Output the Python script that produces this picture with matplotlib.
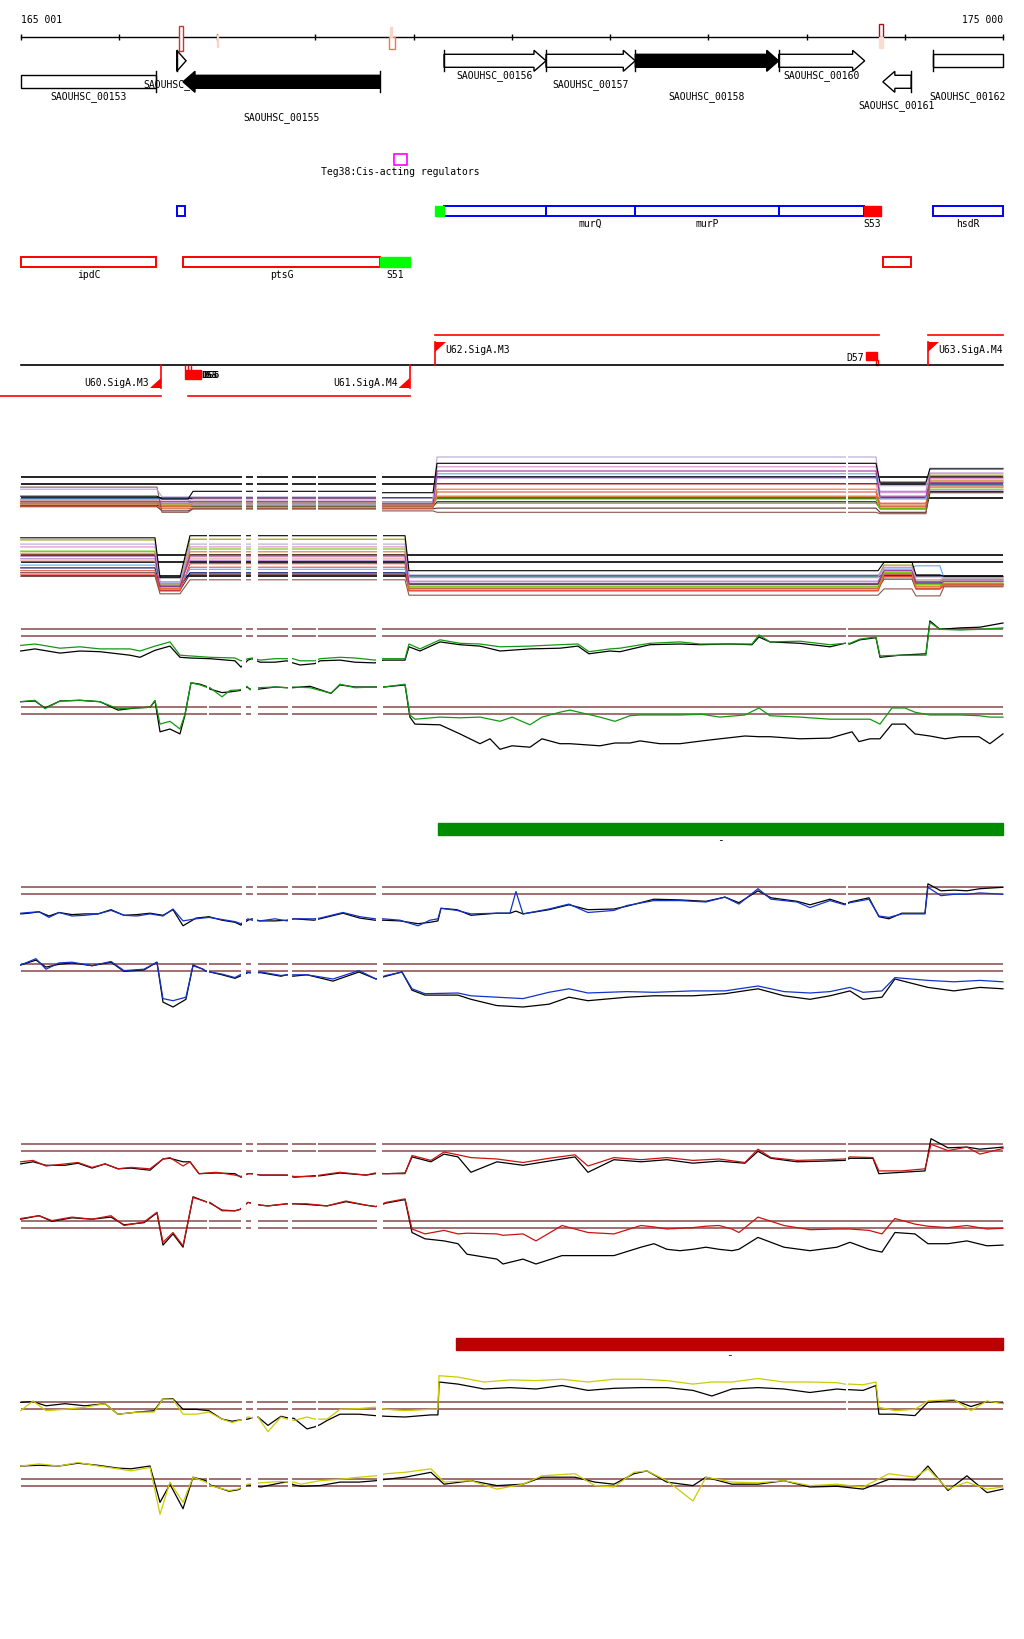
import numpy as np
import matplotlib.pyplot as plt
from matplotlib.patches import Rectangle, Polygon

plt.rcParams['font.family'] = ['DejaVu Sans Mono', 'DejaVu Sans']
plt.rcParams['font.size'] = 7

# --- window ---
view_start, view_end = 165001, 175000
x_lim = (164790, 175214)

# --- genes (top track) ---
gene_names = ['SAOUHSC_00153', 'SAOUHSC_00154', 'SAOUHSC_00155', 'SAOUHSC_00156', 'SAOUHSC_00157',
              'SAOUHSC_00158', 'SAOUHSC_00160', 'SAOUHSC_00161', 'SAOUHSC_00162']
gene_start = [165001, 166589, 166653, 169310, 170348, 171257, 172717, 173777, 174284]
gene_end = [166381, 166684, 168661, 170348, 171257, 172717, 173592, 174065, 175000]
gene_strand = ['-', '+', '-', '+', '+', '+', '+', '-', '+']
gene_clipped = [True, False, False, False, False, False, False, False, True]
gene_dark = [False, False, True, False, False, True, False, False, False]

# ruler sites
site_start = [166615, 166994, 168753, 168763, 173740, 173740]
site_end = [166650, 167014, 168814, 168783, 173775, 173775]
site_color = ['#cc3333', '#f6d6c8', '#ff7050', '#f6d6c8', '#aa1111', '#f9ddd2']
site_filled = [False, True, False, True, False, True]

# annotation boxes
teg_start, teg_end = 168804, 168936
operon_start = [166589, 169310, 170348, 171257, 172717, 174284]
operon_end = [166677, 170348, 171257, 172717, 173588, 175000]
operon_label = ['', '', 'murQ', 'murP', '', 'hsdR']
srna_start = [169220, 173588]
srna_end = [169310, 173755]
srna_label = ['', 'S53']
rna_start = [165001, 166656, 173780]
rna_end = [166381, 168658, 174065]
rna_label = ['ipdC', 'ptsG', '']
s51_start, s51_end = 168658, 168960

# promoters / transcription units
tu_fwd_start = [169218, 174236]
tu_fwd_end = [173734, 175000]
tu_fwd_label = ['U62.SigA.M3', 'U63.SigA.M4']
tu_rev_start = [164790, 166704]
tu_rev_end = [166429, 168960]
tu_rev_label = ['U60.SigA.M3', 'U61.SigA.M4']

# differential regions
green_bar = (169249, 175000)
red_bar = (169432, 175000)

# probe gaps
fwd_gaps = [(167254, 167295), (167366, 167407), (167722, 167763), (168007, 168027),
            (168618, 168679), (173403, 173424)]
rev_gaps = [(166897, 166918), (167243, 167295), (167346, 167417), (167722, 167763),
            (168628, 168690)]

# --- multi-condition panels: levels per region ---
fwd_regions = [(165001, 166388), (166439, 166704), (166755, 168617), (168679, 169198),
               (169239, 173707), (173748, 174216), (174256, 175000)]
rev_regions = [(165001, 166368), (166419, 166622), (166724, 168913), (168953, 173728),
               (173789, 174074), (174114, 174358), (174399, 175000)]
sample_colors = ['black', '#b4a7d6', '#8c564b', '#993399', '#dd88cc', '#55aaff', '#e8703a',
                 '#dd5533', '#66cc00', '#999900', '#000066', '#cc9944', '#ff3333', '#5a3030',
                 '#aa77cc', '#f0a090']
fwd_levels = [
    [0.3, -0.1, 1.0, 0.8, 5.0, 2.3, 4.2],
    [1.3, 0.2, 0.2, 0.0, 5.9, 1.8, 4.3],
    [1.6, -2.0, -1.5, -1.8, -2.0, -2.2, 3.0],
    [-0.5, -0.5, -0.5, -0.8, 3.9, 0.3, 2.3],
    [-0.2, -0.4, -0.1, -0.5, 4.5, 0.8, 2.8],
    [-0.1, -0.1, -0.8, -0.5, 3.5, -0.1, 1.9],
    [-0.8, -1.2, -1.0, -1.1, 1.3, -0.8, 2.2],
    [-1.1, -1.5, -1.4, -1.4, 0.9, -1.2, 1.6],
    [-0.5, -0.8, -0.5, -0.7, -0.1, -1.5, 1.3],
    [-0.8, -1.1, -1.1, -1.1, -0.7, -1.4, 3.3],
    [-1.0, -1.2, -1.2, -1.2, -0.5, -1.5, 1.0],
    [-0.4, -1.0, -0.7, -0.8, 0.2, -1.0, 2.5],
    [-0.7, -1.0, -0.8, -1.0, 0.3, -0.7, 1.8],
    [-1.2, -1.8, -1.5, -1.5, -1.4, -2.0, 0.8],
    [-0.4, -0.7, -0.4, -0.5, 2.9, 1.0, 3.6],
    [-0.7, -0.8, -0.7, -0.8, 2.0, 0.0, 2.6],
]
rev_levels = [
    [5.5, -0.2, 5.8, 0.8, 2.0, 0.2, 0.0],
    [4.6, -0.8, 4.6, 0.2, 1.0, -0.1, -0.1],
    [0.0, -2.5, -0.5, -2.7, -1.8, -2.8, -1.5],
    [2.9, -1.5, 2.9, -1.0, 0.8, -1.0, -0.7],
    [4.2, -1.1, 4.2, -0.2, 1.3, -0.5, -0.2],
    [1.6, -0.8, 1.0, -0.1, 1.2, 1.5, -0.2],
    [3.2, -1.8, 3.5, -1.8, 0.3, -1.5, -1.1],
    [0.8, -1.8, 1.3, -2.1, -0.1, -1.7, -1.2],
    [3.6, -1.2, 3.9, -1.5, 0.5, -1.2, -1.0],
    [5.2, -1.1, 5.3, -0.1, 1.6, -0.7, -0.4],
    [1.2, -1.4, 0.5, -1.1, 0.3, -0.8, -1.2],
    [3.5, -1.7, 3.0, -1.2, 0.6, -1.4, -0.8],
    [0.2, -2.1, 1.8, -2.0, 0.0, -1.8, -1.4],
    [0.5, -2.0, 0.3, -1.7, -0.4, -1.8, -1.1],
    [2.5, -1.0, 2.3, -0.7, 0.9, -0.8, -0.5],
    [2.2, -1.2, 2.6, -1.4, 0.5, -1.1, -0.7],
]

# --- green condition ---
green_fwd_pos = [165001, 165146, 165401, 165604, 165808, 166113, 166215, 166368, 166520, 166622,
                 166724, 166928, 167182, 167243, 167314, 167355, 167437, 167589, 167711, 167772,
                 167844, 167996, 168047, 168251, 168404, 168607, 168689, 168913, 168953, 169065,
                 169269, 169472, 169676, 169880, 170185, 170490, 170673, 170785, 170999, 171101,
                 171406, 171712, 171915, 172221, 172445, 172516, 172628, 172933, 173239, 173391,
                 173442, 173544, 173707, 173748, 173951, 174216, 174256, 174358, 174562, 174765,
                 175000]
green_fwd = [-1.3, -1.1, -1.7, -1.5, -1.8, -1.8, -2.1, -1.4, -0.8, -2.7, -2.8, -3.0, -3.1, -3.5,
             -3.2, -3.1, -3.4, -3.2, -3.2, -3.2, -3.5, -3.5, -3.2, -3.0, -3.1, -3.4, -3.2, -3.2,
             -1.1, -1.8, -0.5, -1.0, -1.1, -1.5, -1.4, -1.2, -1.1, -2.2, -1.8, -1.7, -1.0, -0.8,
             -1.1, -1.1, -1.1, 0.2, -0.8, -0.7, -1.2, -1.0, -1.0, -0.4, -0.1, -2.8, -2.7, -2.7,
             2.0, 1.0, 0.9, 1.0, 1.2]
green_fwd_ref = [-2.1, -1.8, -2.4, -2.1, -2.2, -2.7, -3.0, -2.0, -1.4, -3.0, -3.1, -3.2, -3.5, -4.4,
                 -3.4, -3.2, -3.7, -3.7, -3.5, -3.8, -4.1, -3.9, -3.5, -3.4, -3.7, -3.8, -3.4, -3.4,
                 -1.5, -2.1, -0.8, -1.2, -1.4, -2.1, -1.8, -1.7, -1.4, -2.5, -2.1, -2.2, -1.2, -1.1,
                 -1.2, -1.1, -1.2, -0.1, -0.8, -1.0, -1.5, -1.0, -1.1, -0.5, -0.2, -3.0, -2.7, -2.5,
                 2.2, 1.0, 1.2, 1.3, 1.9]
green_rev_pos = [165001, 165146, 165248, 165401, 165604, 165808, 165991, 166164, 166317, 166368,
                 166419, 166520, 166622, 166673, 166734, 166826, 166887, 166928, 167050, 167131,
                 167233, 167304, 167335, 167426, 167589, 167711, 167772, 167946, 168159, 168251,
                 168404, 168617, 168699, 168913, 168963, 169014, 169269, 169472, 169676, 169778,
                 169880, 170002, 170185, 170307, 170490, 170592, 170897, 171050, 171203, 171305,
                 171508, 171712, 171936, 172119, 172373, 172516, 172628, 172933, 173239, 173463,
                 173534, 173646, 173748, 173870, 174002, 174104, 174256, 174409, 174562, 174755,
                 174867, 175000]
green_rev = [1.8, 2.0, 0.8, 1.9, 2.0, 1.8, 0.8, 0.9, 1.0, 2.0, -1.4, -1.0, -2.1, 0.0, 4.5,
             4.2, 3.9, 3.8, 2.5, 3.4, 3.5, 4.0, 3.5, 3.8, 3.9, 3.8, 3.9, 3.8, 3.0, 4.3,
             3.8, 3.9, 3.9, 4.3, -0.1, -0.7, -0.4, -0.5, -0.4, -0.7, -1.0, -0.4, -1.5, -0.4, 0.3,
             0.6, -0.4, -1.0, -0.2, -0.1, -0.1, -0.1, 0.0, -0.4, -0.1, 0.9, -0.2, -0.4, -0.7, -0.7,
             -0.7, -0.7, -1.4, 0.9, 0.9, 0.3, -0.1, -0.1, -0.1, -0.2, -0.4, -0.4]
green_rev_ref = [1.8, 1.9, 0.9, 1.9, 2.0, 1.8, 0.6, 0.9, 1.0, 1.9, -2.5, -2.1, -2.8, -0.1, 4.5,
                 4.3, 4.0, 3.6, 3.1, 3.2, 3.4, 3.9, 3.6, 3.6, 3.9, 3.8, 3.8, 4.0, 3.0, 4.2,
                 3.9, 3.9, 3.9, 4.2, -0.4, -1.4, -1.5, -2.8, -4.2, -3.5, -5.0, -4.5, -4.7, -3.5, -4.2,
                 -4.2, -4.5, -4.1, -4.1, -3.8, -4.2, -4.2, -3.8, -3.5, -3.1, -3.2, -3.2, -3.5, -3.4, -2.5,
                 -3.9, -3.5, -3.5, -1.4, -1.4, -2.8, -3.1, -3.5, -3.2, -3.2, -4.2, -2.8]

# --- blue condition ---
blue_fwd_pos = [165001, 165085, 165187, 165289, 165391, 165523, 165655, 165788, 165920, 166052,
                166185, 166317, 166449, 166551, 166653, 166785, 166917, 167050, 167182, 167243,
                167314, 167355, 167437, 167589, 167711, 167783, 167986, 168047, 168281, 168454,
                168607, 168689, 168862, 169045, 169167, 169248, 169279, 169442, 169584, 169849,
                169981, 170042, 170114, 170378, 170582, 170775, 171040, 171172, 171447, 171712,
                171976, 172170, 172312, 172506, 172638, 172903, 173035, 173239, 173391, 173442,
                173636, 173737, 173839, 173971, 174206, 174236, 174368, 174501, 174633, 174765,
                175000]
blue_fwd = [-2.7, -2.6, -2.5, -3.3, -2.6, -3.1, -3.0, -2.8, -2.3, -3.0, -3.1, -2.8, -3.1, -2.1, -3.8,
            -3.5, -3.3, -3.6, -3.9, -4.2, -3.5, -3.7, -3.8, -3.5, -3.8, -3.5, -3.5, -3.4, -2.6, -3.2,
            -3.5, -3.5, -3.7, -4.5, -3.7, -3.5, -2.0, -2.3, -2.8, -2.7, -2.7, 0.4, -2.8, -2.1, -1.4,
            -2.6, -2.3, -1.6, -0.9, -0.9, -1.1, -0.4, -1.4, 0.8, -0.7, -1.1, -1.9, -0.9, -1.5, -1.2,
            -0.7, -3.1, -3.3, -2.8, -2.8, 1.0, -0.2, 0.0, 0.0, 0.2, 0.0]
blue_fwd_ref = [-2.8, -2.7, -2.5, -3.1, -2.6, -2.9, -2.8, -2.8, -2.2, -3.0, -2.9, -2.7, -3.0, -2.2, -4.5,
                -3.4, -3.2, -3.7, -4.0, -4.4, -3.7, -3.5, -3.8, -3.8, -3.7, -3.5, -3.7, -3.5, -2.7, -3.4,
                -3.7, -3.7, -3.8, -4.2, -4.0, -3.8, -2.0, -2.2, -3.0, -2.7, -2.7, -2.4, -2.8, -2.2, -1.5,
                -2.2, -2.1, -1.7, -0.7, -0.8, -1.0, -0.4, -1.2, 0.5, -0.5, -1.0, -1.5, -0.7, -1.4, -1.1,
                -0.5, -3.2, -3.5, -2.7, -2.7, 1.5, 0.5, 0.6, 0.5, 0.8, 1.0]
blue_rev_pos = [165001, 165156, 165258, 165391, 165523, 165727, 165920, 166052, 166256, 166388,
                166449, 166551, 166683, 166755, 166856, 166887, 166928, 167050, 167182, 167233,
                167314, 167335, 167447, 167650, 167711, 167772, 167915, 168180, 168444, 168617,
                168719, 168882, 168984, 169116, 169452, 169584, 169849, 170114, 170378, 170582,
                170775, 171172, 171447, 171844, 172170, 172506, 172770, 173035, 173239, 173442,
                173575, 173768, 173900, 174236, 174501, 174765, 175000]
blue_rev = [0.9, 1.8, 0.3, 1.2, 1.3, 0.8, 1.4, 0.1, 0.3, 1.3, -3.9, -4.2, -3.7, 0.8, 0.3,
            0.0, -0.1, -0.4, -0.9, -0.5, -0.1, -0.2, -0.1, -0.6, -0.5, -0.5, -0.5, -1.1, 0.1, -1.1,
            -0.6, -0.1, -2.5, -3.2, -3.1, -3.5, -3.7, -3.9, -3.0, -2.5, -3.1, -2.9, -3.0, -2.8, -2.8,
            -2.1, -2.9, -3.1, -2.9, -2.3, -3.0, -2.8, -0.9, -1.3, -1.5, -1.3, -1.5]
blue_rev_ref = [0.9, 1.6, 0.6, 1.0, 1.2, 0.8, 1.3, 0.0, 0.2, 1.3, -4.4, -5.1, -4.0, 0.9, 0.3,
                0.0, -0.1, -0.5, -1.0, -0.7, -0.2, -0.2, -0.2, -0.7, -0.5, -0.7, -0.5, -1.4, -0.1, -1.1,
                -0.7, -0.1, -2.7, -3.4, -3.4, -4.0, -4.9, -5.1, -4.7, -3.7, -4.2, -3.7, -3.5, -3.5, -3.2,
                -2.5, -3.5, -4.0, -3.5, -2.8, -4.0, -3.7, -1.1, -2.3, -2.8, -2.3, -2.5]

# --- red condition ---
red_fwd_pos = [165001, 165126, 165258, 165452, 165584, 165727, 165859, 165991, 166123, 166317,
               166449, 166520, 166653, 166724, 166816, 166989, 167182, 167243, 167314, 167355,
               167447, 167711, 167783, 167986, 168047, 168251, 168516, 168607, 168719, 168913,
               168984, 169177, 169310, 169452, 169584, 169849, 170114, 170378, 170643, 170775,
               171040, 171315, 171579, 171844, 172109, 172373, 172506, 172638, 172903, 173178,
               173391, 173442, 173676, 173737, 173971, 174206, 174267, 174440, 174633, 174765,
               175000]
red_fwd = [-1.5, -1.3, -2.1, -1.8, -1.6, -2.3, -1.8, -2.5, -2.3, -2.5, -1.1, -0.9, -2.1, -1.5, -3.2,
           -3.0, -3.4, -3.6, -3.2, -3.2, -3.4, -3.4, -3.6, -3.6, -3.4, -3.0, -3.4, -3.1, -3.2, -3.2,
           -0.6, -1.3, -0.1, -0.5, -0.9, -1.1, -1.6, -1.0, -0.5, -2.1, -0.9, -1.2, -0.9, -1.3, -1.1,
           -1.6, 0.3, -0.9, -1.3, -1.2, -1.1, -0.8, -0.9, -2.8, -2.8, -2.5, 1.0, 0.1, 0.6, -0.4, 0.4]
red_fwd_ref = [-1.8, -1.5, -2.0, -2.0, -1.7, -2.4, -1.8, -2.5, -2.4, -2.7, -1.1, -1.0, -1.5, -1.5, -3.2,
               -3.1, -3.2, -3.7, -3.2, -3.2, -3.4, -3.4, -3.7, -3.5, -3.5, -3.1, -3.4, -3.2, -3.2, -3.1,
               -0.8, -1.5, -0.4, -0.8, -3.0, -1.5, -2.0, -1.4, -0.8, -3.0, -1.2, -1.5, -1.2, -1.7, -1.4,
               -1.7, 0.0, -1.0, -1.5, -1.4, -1.3, -1.0, -1.0, -3.2, -3.0, -2.8, 1.8, 0.5, 0.6, 0.3, 0.6]
red_rev_pos = [165001, 165187, 165319, 165523, 165727, 165920, 166052, 166256, 166388, 166449,
               166551, 166653, 166755, 166887, 166928, 167050, 167182, 167233, 167314, 167447,
               167518, 167711, 167783, 167915, 168119, 168312, 168516, 168617, 168719, 168913,
               168984, 169116, 169310, 169452, 169544, 169849, 169910, 170114, 170246, 170511,
               170775, 171040, 171315, 171447, 171579, 171712, 171844, 171976, 172109, 172241,
               172312, 172506, 172770, 173035, 173310, 173442, 173636, 173768, 173900, 174104,
               174236, 174440, 174633, 174837, 175000]
red_rev = [1.4, 1.8, 1.1, 1.6, 1.3, 1.8, 0.4, 0.9, 2.3, -2.0, -0.6, -2.5, 4.4, 3.8, 3.7,
           2.5, 2.5, 2.7, 3.7, 3.3, 3.2, 3.5, 3.5, 3.5, 3.2, 3.9, 3.3, 3.1, 3.7, 4.2,
           -0.1, -0.8, -0.3, -0.8, -0.7, -0.8, -1.0, -0.8, -1.8, 0.4, -0.6, -0.8, 0.4, 0.2, -0.1,
           0.0, 0.1, 0.3, 0.4, -0.1, -0.6, 1.6, 0.4, -0.2, -0.1, -0.1, -0.3, -0.8, 1.4, 0.6,
           0.3, 0.1, 0.4, -0.1, 0.0]
red_rev_ref = [1.3, 1.8, 1.0, 1.5, 1.3, 1.6, 0.5, 0.8, 2.2, -2.4, -0.8, -2.7, 4.5, 3.8, 3.6,
               2.6, 2.5, 2.7, 3.7, 3.3, 3.2, 3.5, 3.5, 3.4, 3.2, 3.8, 3.3, 3.1, 3.6, 4.1,
               -0.6, -1.5, -1.8, -2.2, -3.7, -4.4, -5.1, -4.4, -5.1, -3.9, -3.9, -3.9, -2.7, -2.2, -3.0,
               -3.2, -3.0, -2.7, -3.0, -3.2, -3.0, -1.3, -2.7, -3.2, -2.7, -2.0, -3.0, -3.4, -0.6, -0.8,
               -2.2, -2.2, -1.8, -2.5, -2.4]

# --- yellow condition ---
yellow_fwd_pos = [165001, 165126, 165258, 165452, 165655, 165859, 165991, 166185, 166358, 166449,
                  166551, 166653, 166785, 166917, 167050, 167152, 167243, 167314, 167355, 167416,
                  167518, 167650, 167711, 167783, 167915, 167996, 168047, 168119, 168251, 168444,
                  168607, 168719, 168913, 169177, 169248, 169259, 169452, 169717, 169981, 170246,
                  170511, 170775, 171040, 171315, 171579, 171844, 172037, 172241, 172506, 172770,
                  173035, 173310, 173391, 173442, 173575, 173707, 173737, 173900, 174104, 174236,
                  174501, 174674, 174837, 175000]
yellow_fwd = [-0.2, 1.2, -0.2, 0.0, 0.3, 0.8, -0.7, -0.4, -0.4, 1.5, 1.4, -0.7, -0.7, -0.4, -1.4,
              -1.9, -1.5, -1.1, -1.2, -1.1, -3.2, -1.1, -1.4, -1.6, -1.1, -1.4, -1.4, -1.4, 0.0, 0.1,
              0.3, 0.0, -0.2, 0.0, 0.0, 4.8, 4.6, 3.9, 4.2, 4.1, 4.3, 3.9, 4.3, 4.3, 4.1,
              3.6, 3.9, 3.9, 4.4, 3.9, 3.9, 3.8, 3.6, 3.6, 3.5, 3.9, 0.3, -0.2, 0.0, 1.2,
              1.4, -0.2, 1.2, 0.8]
yellow_fwd_ref = [1.0, 1.1, 0.5, 0.8, 0.5, 0.8, -0.7, -0.4, -0.2, 1.5, 1.5, 0.0, 0.0, -0.2, -1.4,
                  -1.7, -1.5, -1.4, -1.2, -1.1, -2.3, -1.0, -1.2, -1.3, -2.8, -2.5, -2.2, -1.6, -0.7, -0.7,
                  -0.9, -1.0, -1.1, -0.8, -0.8, 3.9, 3.6, 2.9, 3.1, 2.9, 3.4, 2.7, 3.0, 3.1, 3.1,
                  2.7, 1.9, 2.9, 3.1, 2.9, 2.4, 2.9, 2.8, 2.8, 2.7, 3.4, -0.7, -0.7, -0.9, 1.0,
                  1.3, 0.4, 1.1, 0.9]
yellow_rev_pos = [165001, 165187, 165391, 165584, 165788, 165991, 166123, 166317, 166419, 166520,
                  166653, 166755, 166887, 166928, 167121, 167213, 167314, 167447, 167650, 167711,
                  167783, 167854, 168047, 168251, 168444, 168617, 168719, 168913, 169177, 169310,
                  169584, 169849, 170114, 170307, 170643, 170846, 171040, 171243, 171376, 171579,
                  171844, 171976, 172241, 172506, 172770, 173035, 173310, 173575, 173839, 174104,
                  174236, 174440, 174633, 174837, 175000]
yellow_rev = [2.9, 3.2, 2.9, 3.4, 2.9, 2.5, 2.2, 2.7, -4.0, 0.6, -2.3, 1.3, 0.6, 0.1, -0.6,
              -0.4, 0.3, 0.5, 0.7, 0.6, 0.6, 0.3, 0.8, 1.0, 1.3, 1.5, 1.8, 2.0, 2.5, 0.6,
              0.8, -0.4, 0.3, 1.5, 1.8, 0.1, -0.1, 2.0, 2.2, 0.8, -2.1, 1.3, 0.6, 0.5, 0.8,
              0.1, 0.3, -0.1, 1.8, 1.3, 2.5, -0.4, 0.6, -0.4, -0.1]
yellow_rev_ref = [2.9, 3.0, 2.9, 3.3, 3.0, 2.6, 2.5, 2.9, -2.3, 0.3, -3.2, 1.3, 0.8, 0.2, -0.7,
                  -0.5, 0.2, -0.1, 0.5, 0.6, 0.2, 0.0, 0.1, 0.6, 0.6, 0.8, 1.0, 1.3, 2.0, 0.3,
                  0.8, 0.1, 0.3, 1.3, 1.3, 0.6, 0.3, 1.8, 2.2, 0.6, 0.1, 1.3, 0.3, 0.3, 0.8,
                  -0.1, 0.0, -0.4, 1.0, 0.9, 2.9, -0.6, 1.5, -0.9, -0.4]

# ------------------------------------------------------------------
H = 1640.0
fig = plt.figure(figsize=(10.24, 16.4), dpi=100)
ax = fig.add_axes([0, 0, 1, 1])
ax.set_xlim(*x_lim)
ax.set_ylim(H, 0)
ax.axis('off')
bp = (x_lim[1] - x_lim[0]) / 1024.0  # bp per pixel

# ruler
ax.plot([view_start, view_end], [38, 38], color='black', lw=1)
ax.vlines(np.arange(view_start, view_end + 2, 1000), 35, 41, color='black', lw=1)
ax.text(view_start, 20, '165 001', ha='left', va='center')
ax.text(view_end, 20, '175 000', ha='right', va='center')
site_y = [(27, 52), (36, 48), (38, 50), (28, 38), (25, 38), (38, 49)]
for s, e, c, f, (y0, y1) in zip(site_start, site_end, site_color, site_filled, site_y):
    ax.add_patch(Rectangle((s, y0), e - s, y1 - y0, facecolor=c if f else 'white',
                           edgecolor=c, lw=1, zorder=4))

# genes
row_y = [61.8, 82.8]
gene_row = [1, 0, 1, 0, 0, 0, 0, 1, 0]
label_y = [97, 85, 118, 76, 85, 97, 76, 106, 97]
body, head, hl = 6.5, 10.5, 12 * bp
for i, name in enumerate(gene_names):
    s, e = gene_start[i], gene_end[i]
    yc = row_y[gene_row[i]]
    fc = 'black' if gene_dark[i] else 'white'
    z = 5 if gene_dark[i] else 3
    ax.text((s + e) / 2, label_y[i], name, ha='center', va='center', zorder=4)
    if gene_clipped[i]:
        pts = [(s, yc - body), (e, yc - body), (e, yc + body), (s, yc + body)]
    elif gene_strand[i] == '+':
        b = max(s, e - hl)
        if b == s:
            pts = [(s, yc - head), (e, yc), (s, yc + head)]
        else:
            pts = [(s, yc - body), (b, yc - body), (b, yc - head), (e, yc),
                   (b, yc + head), (b, yc + body), (s, yc + body)]
    else:
        b = min(e, s + hl)
        pts = [(e, yc - body), (b, yc - body), (b, yc - head), (s, yc),
               (b, yc + head), (b, yc + body), (e, yc + body)]
    ax.add_patch(Polygon(pts, closed=True, facecolor=fc, edgecolor='black', lw=1, zorder=z))
    bar_x = s if gene_strand[i] == '+' else e
    ax.plot([bar_x, bar_x], [yc - head, yc + head], color='black', lw=1, zorder=z)

# Teg box
ax.add_patch(Rectangle((teg_start, 155), teg_end - teg_start, 11, facecolor='none',
                       edgecolor='#ff00ff', lw=1.2))
ax.text((teg_start + teg_end) / 2, 172, 'Teg38:Cis-acting regulators', ha='center', va='center')

# operon row
for s, e, lab in zip(operon_start, operon_end, operon_label):
    ax.add_patch(Rectangle((s, 207), e - s, 10, facecolor='none', edgecolor='#0000ff', lw=1.4))
    if lab:
        ax.text((s + e) / 2, 224, lab, ha='center', va='center')
for s, e, lab, c in zip(srna_start, srna_end, srna_label, ['#00ff00', '#ff0000']):
    ax.add_patch(Rectangle((s, 207), e - s, 10, facecolor=c, edgecolor=c, lw=1))
    if lab:
        ax.text((s + e) / 2, 224, lab, ha='center', va='center')

# RNA row
for s, e, lab in zip(rna_start, rna_end, rna_label):
    ax.add_patch(Rectangle((s, 258), e - s, 10, facecolor='none', edgecolor='#ff0000', lw=1.4))
    if lab:
        ax.text((s + e) / 2, 275, lab, ha='center', va='center')
ax.add_patch(Rectangle((s51_start, 258), s51_end - s51_start, 10, facecolor='#00ff00',
                       edgecolor='#00ff00', lw=1))
ax.text((s51_start + s51_end) / 2, 275, 'S51', ha='center', va='center')

# transcription units
ax.plot([view_start, view_end], [366, 366], color='black', lw=1.2)
for s, e, lab in zip(tu_fwd_start, tu_fwd_end, tu_fwd_label):
    ax.plot([s, e], [336, 336], color='#ff0000', lw=1.2)
    ax.plot([s, s], [343, 366], color='#ff0000', lw=1.2)
    ax.add_patch(Polygon([(s, 343), (s + 11 * bp, 343), (s, 353)], color='#ff0000', lw=0))
    ax.text(s + 10 * bp, 350, lab, ha='left', va='center')
for s, e, lab in zip(tu_rev_start, tu_rev_end, tu_rev_label):
    ax.plot([s, e], [397, 397], color='#ff0000', lw=1.2)
    ax.plot([e, e], [366, 389], color='#ff0000', lw=1.2)
    ax.add_patch(Polygon([(e, 389), (e - 11 * bp, 389), (e, 379)], color='#ff0000', lw=0))
    ax.text(e - 12 * bp, 383, lab, ha='right', va='center')
# D57 / D55 / D56 marks
ax.add_patch(Rectangle((173605, 353), 112, 8, color='#ff0000'))
ax.add_patch(Rectangle((173707, 361), 20, 5, facecolor='none', edgecolor='#ff0000', lw=1))
ax.text(173585, 358, 'D57', ha='right', va='center')
ax.add_patch(Rectangle((166673, 371), 163, 9, color='#ff0000'))
ax.vlines([166677, 166701, 166732], 366, 371, color='#ff0000', lw=1)
ax.text(166836, 376, 'D55', ha='left', va='center', fontsize=6.5, fontweight='bold')
ax.text(166856, 376, 'D56', ha='left', va='center', fontsize=6.5, fontweight='bold')

# differential bars
ax.add_patch(Rectangle((green_bar[0], 824), green_bar[1] - green_bar[0], 12, color='#008c00'))
ax.text(sum(green_bar) / 2, 840, '-', ha='center', va='center', fontsize=8)
ax.add_patch(Rectangle((red_bar[0], 1339), red_bar[1] - red_bar[0], 12, color='#bb0000'))
ax.text(sum(red_bar) / 2, 1355, '-', ha='center', va='center', fontsize=8)


def track(top, bottom, zero):
    t = fig.add_axes([0, 1 - bottom / H, 1, (bottom - top) / H])
    t.set_xlim(*x_lim)
    t.set_ylim((zero - bottom) / 7.0, (zero - top) / 7.0)
    t.axis('off')
    return t


def gaps(t, gap_list):
    for g0, g1 in gap_list:
        t.axvspan(g0, g1, color='white', zorder=10, lw=0)


def region_steps(t, regions, levels, colors):
    xs = [v for r in regions for v in r]
    for lev, c in zip(levels, colors):
        t.plot(xs, np.repeat(lev, 2), color=c, lw=0.8)


# multi-condition panels
t = track(440, 520, 499.3)
t.hlines([0, 2.1, 3.0], view_start, view_end, color='black', lw=1.2, zorder=1)
region_steps(t, fwd_regions, fwd_levels[::-1], sample_colors[::-1])
gaps(t, fwd_gaps)
t = track(520, 610, 577.3)
t.hlines([0, 2.1, 3.1], view_start, view_end, color='black', lw=1.2, zorder=1)
region_steps(t, rev_regions, rev_levels[::-1], sample_colors[::-1])
gaps(t, rev_gaps)

# single-condition panels
panels = [
    (610, 680, 637.3, green_fwd_pos, green_fwd, green_fwd_ref, '#119911', fwd_gaps),
    (680, 770, 715.3, green_rev_pos, green_rev, green_rev_ref, '#119911', rev_gaps),
    (860, 940, 895.3, blue_fwd_pos, blue_fwd, blue_fwd_ref, '#1133cc', fwd_gaps),
    (940, 1030, 972.3, blue_rev_pos, blue_rev, blue_rev_ref, '#1133cc', rev_gaps),
    (1110, 1190, 1152.3, red_fwd_pos, red_fwd, red_fwd_ref, '#cc1111', fwd_gaps),
    (1190, 1280, 1229.3, red_rev_pos, red_rev, red_rev_ref, '#cc1111', rev_gaps),
    (1360, 1440, 1410.3, yellow_fwd_pos, yellow_fwd, yellow_fwd_ref, '#cccc00', fwd_gaps),
    (1440, 1530, 1487.3, yellow_rev_pos, yellow_rev, yellow_rev_ref, '#cccc00', rev_gaps),
]
for top, bottom, zero, pos, val, ref, col, gl in panels:
    t = track(top, bottom, zero)
    t.hlines([0, 1], view_start, view_end, color='#9a6464', lw=1.3, zorder=1)
    t.plot(pos, ref, color='black', lw=0.9, zorder=2)
    t.plot(pos, val, color=col, lw=0.9, zorder=3)
    gaps(t, gl)

fig.savefig('out.png', dpi=100, facecolor='white')
